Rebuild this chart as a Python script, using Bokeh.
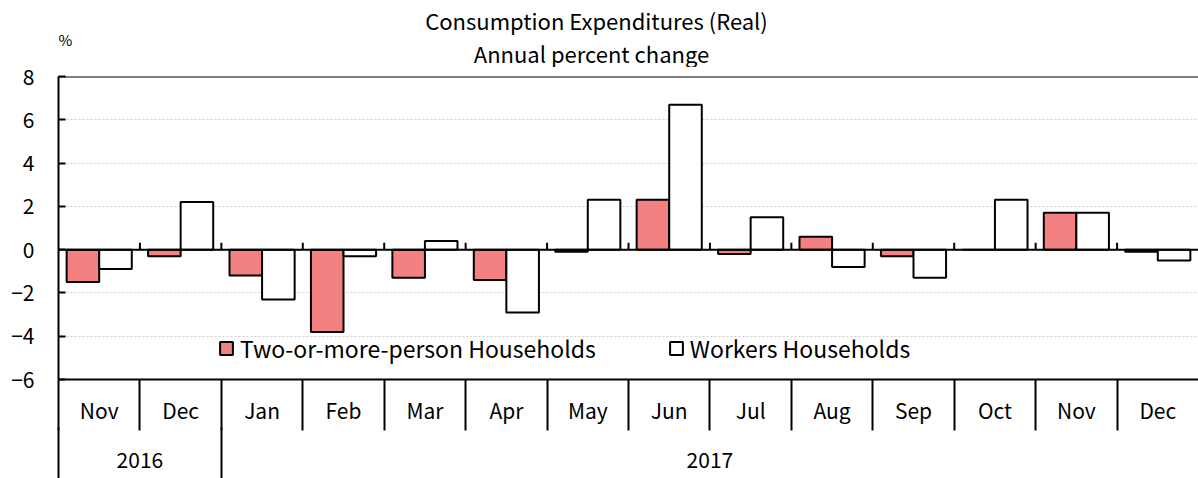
import math
from bokeh.plotting import figure
from bokeh.layouts import column
from bokeh.models import (ColumnDataSource, Range1d, LinearAxis, FixedTicker,
                          Span, Label, Legend, LegendItem)
from bokeh.transform import dodge
from bokeh.embed import file_html
from bokeh.resources import INLINE

# ---- data ----
months = ["Nov", "Dec", "Jan", "Feb", "Mar", "Apr", "May", "Jun", "Jul", "Aug", "Sep", "Oct", "Nov", "Dec"]
years = ["2016", "2016", "2017", "2017", "2017", "2017", "2017", "2017", "2017", "2017", "2017", "2017", "2017", "2017"]
two_or_more = [-1.5, -0.3, -1.2, -3.8, -1.3, -1.4, -0.1, 2.3, -0.2, 0.6, -0.3, 0.0, 1.7, -0.1]
workers = [-0.9, 2.2, -2.3, -0.3, 0.4, -2.9, 2.3, 6.7, 1.5, -0.8, -1.3, 2.3, 1.7, -0.5]
y_ticks = [-6, -4, -2, 0, 2, 4, 6, 8]
series_names = ["Two-or-more-person Households", "Workers Households"]
title_lines = ["Consumption Expenditures (Real)", "Annual percent change"]
unit_label = "%"

FONT = "Noto Sans CJK JP"
FS = "21px"
n = len(months)
centers = [i + 0.5 for i in range(n)]
bounds = list(range(n + 1))
src = ColumnDataSource(dict(pos=centers, a=two_or_more, b=workers))

# ---- header strip (titles and unit) ----
head = figure(width=1198, height=67, x_range=Range1d(0, 1), y_range=Range1d(0, 1),
              x_axis_location=None, y_axis_location=None, output_backend="svg",
              toolbar_location=None, title=None, min_border=0)
head.outline_line_color = None
head.xgrid.visible = False
head.ygrid.visible = False
head.add_layout(Label(x=538, y=48, x_units="screen", y_units="screen", text=title_lines[0],
                      text_align="center", text_baseline="alphabetic", text_font=FONT,
                      text_font_size="22px", text_color="black"))
head.add_layout(Label(x=533, y=15, x_units="screen", y_units="screen", text=title_lines[1],
                      text_align="center", text_baseline="alphabetic", text_font=FONT,
                      text_font_size="22px", text_color="black"))
head.add_layout(Label(x=0, y=28, x_units="screen", y_units="screen", text=unit_label,
                      text_align="left", text_baseline="alphabetic", text_font=FONT,
                      text_font_size="15px", text_color="black"))

# ---- main chart ----
p = figure(width=1198, height=411,
           x_range=Range1d(0, n), y_range=Range1d(y_ticks[0], y_ticks[-1]),
           x_axis_location=None, output_backend="svg", toolbar_location=None, title=None,
           min_border_left=58, min_border_right=0, min_border_top=9, min_border_bottom=99)
p.outline_line_color = None
p.background_fill_color = "white"
p.border_fill_color = "white"

ya = p.yaxis[0]
ya.ticker = FixedTicker(ticks=y_ticks)
ya.major_tick_in = 7
ya.major_tick_out = 0
ya.minor_tick_in = 0
ya.minor_tick_out = 0
ya.axis_line_width = 2
ya.axis_line_color = "black"
ya.major_tick_line_width = 2
ya.major_tick_line_color = "black"
ya.major_label_text_font = FONT
ya.major_label_text_font_size = FS
ya.major_label_text_color = "black"
ya.major_label_standoff = 24

p.ygrid.ticker = FixedTicker(ticks=[t for t in y_ticks if t not in (0, y_ticks[0], y_ticks[-1])])
p.ygrid.grid_line_color = "#cfcfcf"
p.ygrid.grid_line_dash = "2 2"
p.xgrid.visible = False

r1 = p.vbar(x=dodge("pos", -0.2), top="a", width=0.4, source=src,
            fill_color="#F48181", line_color="black", line_width=2)
r2 = p.vbar(x=dodge("pos", 0.2), top="b", width=0.4, source=src,
            fill_color="white", line_color="black", line_width=2)

p.add_layout(Span(location=0, dimension="width", line_color="black", line_width=2))
p.add_layout(Span(location=y_ticks[-1], dimension="width", line_color="black", line_width=2))

# small ticks on zero line at category boundaries
p.ray(x=bounds[1:-1], y=[0] * (n - 1), length=7, length_units="screen", angle=math.pi / 2,
      line_color="black", line_width=2)

# month axis: labels at centres, separators (minor ticks drawn downward) at boundaries
ma = LinearAxis(ticker=FixedTicker(ticks=centers, minor_ticks=bounds[:-1]),
                major_label_overrides={c: m for c, m in zip(centers, months)},
                major_tick_in=0, major_tick_out=0, minor_tick_in=-51, minor_tick_out=0,
                minor_tick_line_width=2, minor_tick_line_color="black",
                axis_line_width=2, axis_line_color="black",
                major_label_standoff=15, major_label_text_font=FONT,
                major_label_text_font_size=FS, major_label_text_color="black")
p.add_layout(ma, "below")

# year groups
ystarts, yends, ynames = [], [], []
for i, yv in enumerate(years):
    if i == 0 or years[i - 1] != yv:
        ystarts.append(i)
        ynames.append(yv)
        yends.append(i + 1)
    else:
        yends[-1] = i + 1
ycenters = [(s + e) / 2 for s, e in zip(ystarts, yends)]
yax = LinearAxis(ticker=FixedTicker(ticks=ycenters, minor_ticks=ystarts),
                 major_label_overrides={c: nm for c, nm in zip(ycenters, ynames)},
                 major_tick_in=0, major_tick_out=0, minor_tick_in=-80, minor_tick_out=0,
                 minor_tick_line_width=2, minor_tick_line_color="black",
                 axis_line_color=None,
                 major_label_standoff=24, major_label_text_font=FONT,
                 major_label_text_font_size=FS, major_label_text_color="black")
p.add_layout(yax, "below")

legend = Legend(items=[LegendItem(label=series_names[0], renderers=[r1]),
                       LegendItem(label=series_names[1], renderers=[r2])],
                orientation="horizontal", location=(160, 14), padding=0, margin=0,
                spacing=72, glyph_width=16, glyph_height=16, label_standoff=6,
                label_text_font=FONT, label_text_font_size="23px", label_text_color="black",
                border_line_color=None, background_fill_alpha=0)
p.add_layout(legend, "center")

layout = column(head, p, spacing=0)
open("out.html", "w").write(file_html(layout, INLINE))
